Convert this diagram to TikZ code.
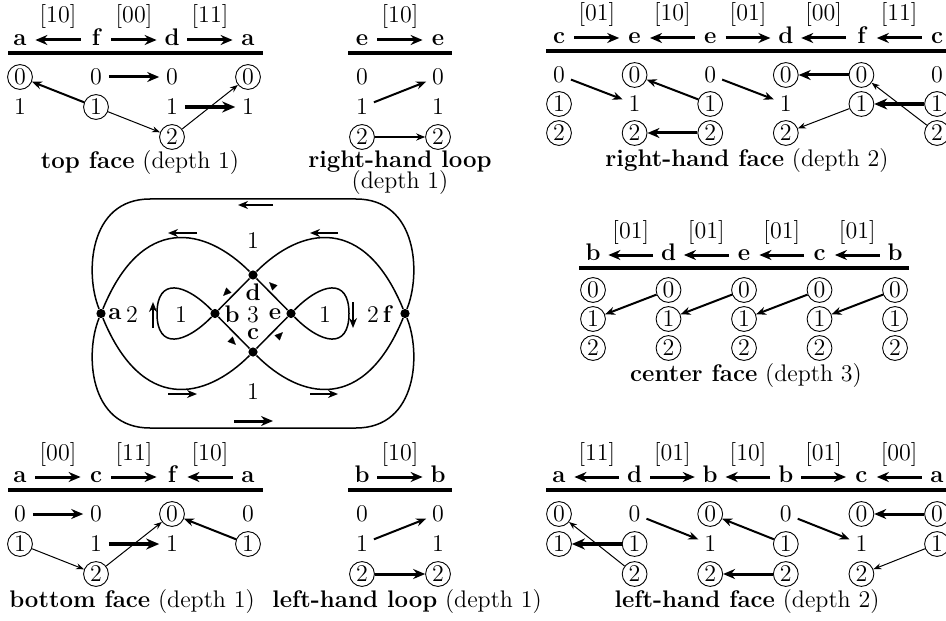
\documentclass[tikz,border=0pt]{standalone}
\usetikzlibrary{arrows.meta}
\begin{document}
\begin{tikzpicture}[x=0.5pt,y=-0.5pt,font=\fontsize{12}{14}\selectfont,
  dg/.style={circle,inner sep=0pt,minimum size=12.4pt},
  cd/.style={dg,draw,line width=0.45pt},
  hd/.style={font=\fontsize{12}{14}\selectfont\bfseries,inner sep=0pt,text height=5.2pt,text depth=0pt,minimum width=11pt},
  lb/.style={anchor=base,inner sep=0pt},
  capt/.style={anchor=base,inner sep=0pt},
  ar1/.style={line width=0.5pt,-{Stealth[length=4pt,width=3pt]}},
  ar2/.style={line width=1pt,-{Stealth[length=5pt,width=4pt]}},
  ar3/.style={line width=1.5pt,-{Stealth[length=6pt,width=5pt]}},
  ar4/.style={line width=2.1pt,-{Stealth[length=6.5pt,width=5.5pt]}},
  hda/.style={ar3,shorten <=2pt,shorten >=2pt},
  rulel/.style={line width=1.6pt},
  gline/.style={line width=0.75pt},
  dot/.style={circle,fill,inner sep=0pt,minimum size=4.6pt},
  tipm/.style={line width=0.1pt,-{Triangle[length=4pt,width=3.6pt]}}]
\useasboundingbox (0,0) rectangle (946,620);
\fill[white] (0,0) rectangle (946,620);

% ---------------- top face ----------------
\node[hd] (ta1) at (20,40) {a};
\node[hd] (tf) at (96,40) {f};
\node[hd] (td) at (172,40) {d};
\node[hd] (ta2) at (248,40) {a};
\draw[hda] (tf.west) -- (ta1.east);
\draw[hda] (tf.east) -- (td.west);
\draw[hda] (td.east) -- (ta2.west);
\node[lb] (tl1) at (58,23) {[10]};
\node[lb] (tl2) at (134,23) {[00]};
\node[lb] (tl3) at (210,23) {[11]};
\draw[rulel] (8,53) -- (263,53);
\node[cd] (T10) at (20,77) {0};
\node[dg] (T11) at (20,107) {1};
\node[dg] (T20) at (96,77) {0};
\node[cd] (T21) at (96,107) {1};
\node[dg] (T30) at (172,77) {0};
\node[dg] (T31) at (172,107) {1};
\node[cd] (T32) at (172,137) {2};
\node[cd] (T40) at (248,77) {0};
\node[dg] (T41) at (248,107) {1};
\draw[ar2] (T21) -- (T10);
\draw[ar3] (T20) -- (T30);
\draw[ar1] (T21) -- (T32);
\draw[ar1] (T32) -- (T40);
\draw[ar4] (T31) -- (T41);
\node[capt] (tcap) at (140,169) {\textbf{top face} (depth 1)};

% ---------------- right-hand loop ----------------
\node[hd] (le1) at (362,40) {e};
\node[hd] (le2) at (438,40) {e};
\draw[hda] (le1.east) -- (le2.west);
\node[lb] (ll1) at (400,23) {[10]};
\draw[rulel] (348,53) -- (452,53);
\node[dg] (L10) at (362,77) {0};
\node[dg] (L11) at (362,107) {1};
\node[cd] (L12) at (362,137) {2};
\node[dg] (L20) at (438,77) {0};
\node[dg] (L21) at (438,107) {1};
\node[cd] (L22) at (438,137) {2};
\draw[ar2] (L11) -- (L20);
\draw[line width=0.8pt,-{Stealth[length=4.5pt,width=3.6pt]}] (L12) -- (L22);
\node[capt] (lcap1) at (400,168) {\textbf{right-hand loop}};
\node[capt] (lcap2) at (400,189) {(depth 1)};

% ---------------- right-hand face ----------------
\node[hd] (rh1) at (559,38) {c};
\node[hd] (rh2) at (634.6,38) {e};
\node[hd] (rh3) at (710.2,38) {e};
\node[hd] (rh4) at (785.8,38) {d};
\node[hd] (rh5) at (861.4,38) {f};
\node[hd] (rh6) at (937,38) {c};
\draw[hda] (rh1.east) -- (rh2.west);
\draw[hda] (rh3.west) -- (rh2.east);
\draw[hda] (rh3.east) -- (rh4.west);
\draw[hda] (rh5.west) -- (rh4.east);
\draw[hda] (rh6.west) -- (rh5.east);
\node[lb] (rl1) at (596.8,21) {[01]};
\node[lb] (rl2) at (672.4,21) {[10]};
\node[lb] (rl3) at (748,21) {[01]};
\node[lb] (rl4) at (823.6,21) {[00]};
\node[lb] (rl5) at (899.2,21) {[11]};
\draw[rulel] (546,51) -- (960,51);
\node[dg] (R10) at (559,75) {0};
\node[cd] (R11) at (559,104) {1};
\node[cd] (R12) at (559,133) {2};
\node[cd] (R20) at (634.6,75) {0};
\node[dg] (R21) at (634.6,104) {1};
\node[cd] (R22) at (634.6,133) {2};
\node[dg] (R30) at (710.2,75) {0};
\node[cd] (R31) at (710.2,104) {1};
\node[cd] (R32) at (710.2,133) {2};
\node[cd] (R40) at (785.8,75) {0};
\node[dg] (R41) at (785.8,104) {1};
\node[cd] (R42) at (785.8,133) {2};
\node[cd] (R50) at (861.4,75) {0};
\node[cd] (R51) at (861.4,104) {1};
\node[dg] (R60) at (937,75) {0};
\node[cd] (R61) at (937,104) {1};
\node[cd] (R62) at (937,133) {2};
\draw[ar2] (R10) -- (R21);
\draw[ar2] (R31) -- (R20);
\draw[ar3] (R32) -- (R22);
\draw[ar2] (R30) -- (R41);
\draw[ar3] (R50) -- (R40);
\draw[ar1] (R51) -- (R42);
\draw[ar4] (R61) -- (R51);
\draw[ar1] (R62) -- (R50);
\node[capt] (rcap) at (747,167) {\textbf{right-hand face} (depth 2)};

% ---------------- center graph ----------------
\node[dot] (ga) at (101,313.5) {};
\node[dot] (gb) at (215,313.5) {};
\node[dot] (gc) at (253,352) {};
\node[dot] (gd) at (253,275) {};
\node[dot] (ge) at (291,313.5) {};
\node[dot] (gf) at (405,313.5) {};
\draw[gline] (ga) .. controls (85,275) and (88,199) .. (150,199) -- (356,199) .. controls (418,199) and (421,275) .. (gf);
\draw[gline] (gf) .. controls (421,352) and (418,428) .. (356,428) -- (150,428) .. controls (88,428) and (85,352) .. (ga);
\draw[gline] (ga) .. controls (142,214) and (205,227) .. (gd);
\draw[gline] (gf) .. controls (364,214) and (301,227) .. (gd);
\draw[gline] (ga) .. controls (142,413) and (205,400) .. (gc);
\draw[gline] (gf) .. controls (364,413) and (301,400) .. (gc);
\draw[gline] (gd) -- (ge);
\draw[gline] (ge) -- (gc);
\draw[gline] (gc) -- (gb);
\draw[gline] (gb) -- (gd);
\draw[gline] (gb) .. controls (185,283) and (157,277) .. (157,313.5) .. controls (157,350) and (185,344) .. (gb);
\draw[gline] (ge) .. controls (321,283) and (349,277) .. (349,313.5) .. controls (349,350) and (321,344) .. (ge);
% labels
\node[inner sep=0pt] (na) at (115,314) {\textbf{a}};
\node[inner sep=0pt] (n2a) at (132,315) {2};
\node[inner sep=0pt] (n1l) at (181,315) {1};
\node[inner sep=0pt] (nb) at (232,314) {\textbf{b}};
\node[inner sep=0pt] (n3) at (253,314.5) {3};
\node[inner sep=0pt] (nd) at (253,292.5) {\textbf{d}};
\node[inner sep=0pt] (nc) at (253,334.5) {\textbf{c}};
\node[inner sep=0pt] (ne) at (275,314) {\textbf{e}};
\node[inner sep=0pt] (n1r) at (325,315) {1};
\node[inner sep=0pt] (n2f) at (373,315) {2};
\node[inner sep=0pt] (nf) at (388,314) {\textbf{f}};
\node[inner sep=0pt] (n1t) at (253,241) {1};
\node[inner sep=0pt] (n1b) at (253,392) {1};
% direction markers
\draw[ar2] (273,205) -- (238,205);
\draw[ar3] (234,421) -- (273,421);
\draw[ar2] (197,233) -- (168,233);
\draw[ar2] (338,233) -- (310,233);
\draw[ar2] (168,394) -- (197,394);
\draw[ar2] (310,394) -- (338,394);
\draw[ar2] (153,328) -- (153,302);
\draw[ar2] (353,302) -- (353,328);
\draw[tipm] (228.8,290.2) -- (223.2,295.8);
\draw[tipm] (274.8,287.8) -- (269.2,282.2);
\draw[tipm] (230.2,339.2) -- (235.8,344.8);
\draw[tipm] (277.2,337.8) -- (282.8,332.2);

% ---------------- center face ----------------
\node[hd] (ch1) at (593,255) {b};
\node[hd] (ch2) at (668.5,255) {d};
\node[hd] (ch3) at (744,255) {e};
\node[hd] (ch4) at (819.5,255) {c};
\node[hd] (ch5) at (895,255) {b};
\draw[hda] (ch2.west) -- (ch1.east);
\draw[hda] (ch3.west) -- (ch2.east);
\draw[hda] (ch4.west) -- (ch3.east);
\draw[hda] (ch5.west) -- (ch4.east);
\node[lb] (cl1) at (630.75,238) {[01]};
\node[lb] (cl2) at (706.25,238) {[01]};
\node[lb] (cl3) at (781.75,238) {[01]};
\node[lb] (cl4) at (857.25,238) {[01]};
\draw[rulel] (579,268) -- (909,268);
\foreach \i/\x in {1/593,2/668.5,3/744,4/819.5,5/895}{
  \node[cd] (C\i0) at (\x,290) {0};
  \node[cd] (C\i1) at (\x,319) {1};
  \node[cd] (C\i2) at (\x,348) {2};
}
\draw[ar2] (C20) -- (C11);
\draw[ar2] (C30) -- (C21);
\draw[ar2] (C40) -- (C31);
\draw[ar2] (C50) -- (C41);
\node[capt] (ccap) at (746,381) {\textbf{center face} (depth 3)};

% ---------------- bottom face ----------------
\node[hd] (ba1) at (20,477) {a};
\node[hd] (bc) at (96,477) {c};
\node[hd] (bf) at (172,477) {f};
\node[hd] (ba2) at (248,477) {a};
\draw[hda] (ba1.east) -- (bc.west);
\draw[hda] (bc.east) -- (bf.west);
\draw[hda] (ba2.west) -- (bf.east);
\node[lb] (bl1) at (58,460) {[00]};
\node[lb] (bl2) at (134,460) {[11]};
\node[lb] (bl3) at (210,460) {[10]};
\draw[rulel] (8,490) -- (263,490);
\node[dg] (B10) at (20,514) {0};
\node[cd] (B11) at (20,544) {1};
\node[dg] (B20) at (96,514) {0};
\node[dg] (B21) at (96,544) {1};
\node[cd] (B22) at (96,574) {2};
\node[cd] (B30) at (172,514) {0};
\node[dg] (B31) at (172,544) {1};
\node[dg] (B40) at (248,514) {0};
\node[cd] (B41) at (248,544) {1};
\draw[ar3] (B10) -- (B20);
\draw[ar1] (B11) -- (B22);
\draw[ar1] (B22) -- (B30);
\draw[ar4] (B21) -- (B31);
\draw[ar2] (B41) -- (B30);
\node[capt] (bcap) at (132,607) {\textbf{bottom face} (depth 1)};

% ---------------- left-hand loop ----------------
\node[hd] (mb1) at (362,477) {b};
\node[hd] (mb2) at (438,477) {b};
\draw[hda] (mb1.east) -- (mb2.west);
\node[lb] (ml1) at (400,460) {[10]};
\draw[rulel] (348,490) -- (452,490);
\node[dg] (M10) at (362,514) {0};
\node[dg] (M11) at (362,544) {1};
\node[cd] (M12) at (362,574) {2};
\node[dg] (M20) at (438,514) {0};
\node[dg] (M21) at (438,544) {1};
\node[cd] (M22) at (438,574) {2};
\draw[ar2] (M11) -- (M20);
\draw[ar3] (M12) -- (M22);
\node[capt] (mcap) at (407,607) {\textbf{left-hand loop} (depth 1)};

% ---------------- left-hand face ----------------
\node[hd] (fh1) at (559,477) {a};
\node[hd] (fh2) at (634.6,477) {d};
\node[hd] (fh3) at (710.2,477) {b};
\node[hd] (fh4) at (785.8,477) {b};
\node[hd] (fh5) at (861.4,477) {c};
\node[hd] (fh6) at (937,477) {a};
\draw[hda] (fh2.west) -- (fh1.east);
\draw[hda] (fh2.east) -- (fh3.west);
\draw[hda] (fh4.west) -- (fh3.east);
\draw[hda] (fh4.east) -- (fh5.west);
\draw[hda] (fh6.west) -- (fh5.east);
\node[lb] (fl1) at (596.8,460) {[11]};
\node[lb] (fl2) at (672.4,460) {[01]};
\node[lb] (fl3) at (748,460) {[10]};
\node[lb] (fl4) at (823.6,460) {[01]};
\node[lb] (fl5) at (899.2,460) {[00]};
\draw[rulel] (546,490) -- (960,490);
\node[cd] (F10) at (559,514) {0};
\node[cd] (F11) at (559,544) {1};
\node[dg] (F20) at (634.6,514) {0};
\node[cd] (F21) at (634.6,544) {1};
\node[cd] (F22) at (634.6,574) {2};
\node[cd] (F30) at (710.2,514) {0};
\node[dg] (F31) at (710.2,544) {1};
\node[cd] (F32) at (710.2,574) {2};
\node[dg] (F40) at (785.8,514) {0};
\node[cd] (F41) at (785.8,544) {1};
\node[cd] (F42) at (785.8,574) {2};
\node[cd] (F50) at (861.4,514) {0};
\node[dg] (F51) at (861.4,544) {1};
\node[cd] (F52) at (861.4,574) {2};
\node[cd] (F60) at (937,514) {0};
\node[cd] (F61) at (937,544) {1};
\draw[ar1] (F22) -- (F10);
\draw[ar4] (F21) -- (F11);
\draw[ar2] (F20) -- (F31);
\draw[ar2] (F41) -- (F30);
\draw[ar3] (F42) -- (F32);
\draw[ar2] (F40) -- (F51);
\draw[ar3] (F60) -- (F50);
\draw[ar1] (F61) -- (F52);
\node[capt] (fcap) at (747,607) {\textbf{left-hand face} (depth 2)};
\end{tikzpicture}
\end{document}
